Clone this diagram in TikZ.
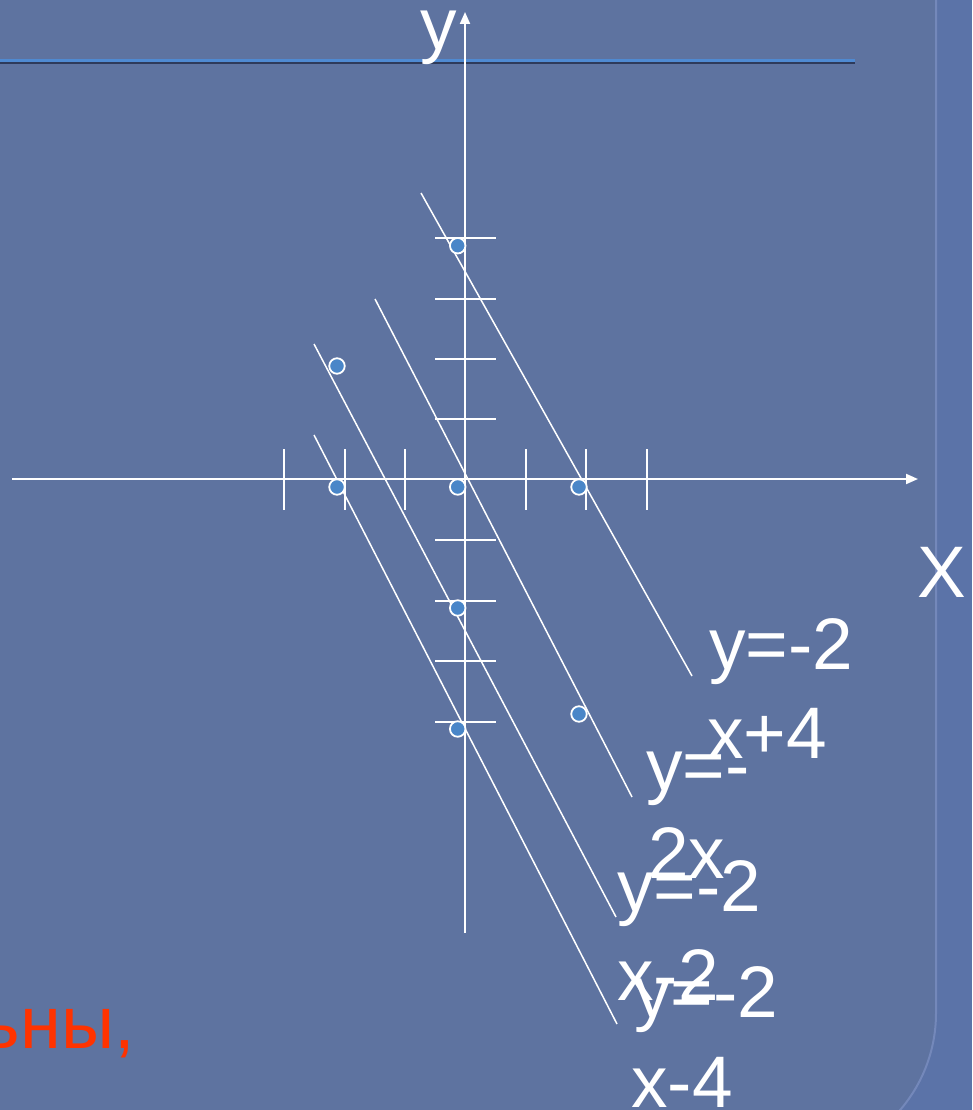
\documentclass[tikz,border=0pt]{standalone}
\usepackage{fontspec}
\setmainfont{Liberation Sans}
\usetikzlibrary{arrows.meta}
\definecolor{bgpanel}{HTML}{5E73A0}
\definecolor{bgband}{HTML}{5B73A8}
\definecolor{bandline}{HTML}{7488BA}
\definecolor{ptblue}{HTML}{4A86C8}
\definecolor{rulelight}{HTML}{4F8AD2}
\definecolor{ruledark}{HTML}{2E3A5A}
\definecolor{redtext}{HTML}{FF3300}
\begin{document}
\begin{tikzpicture}[x=1pt,y=-1pt,
  lbl/.style={text=white,anchor=base west,inner sep=0pt,font=\fontsize{73}{88}\selectfont},
  axisline/.style={white,line width=2pt,-{Triangle[length=12pt,width=10pt]}},
  tickmark/.style={white,line width=2pt},
  graphline/.style={white,line width=1.5pt},
  dot/.style={circle,fill=ptblue,draw=white,line width=1.8pt,minimum size=15.5pt,inner sep=0pt}]
\useasboundingbox (0,0) rectangle (972,1110);
% background
\fill[bgband] (0,0) rectangle (972,1110);
\draw[bandline,line width=2pt,fill=bgpanel,rounded corners=149pt] (-400,-400) -- (936,-400) -- (936,1162) -- (-400,1162) -- cycle;
% top rule
\draw[rulelight,line width=2.3pt] (0,60.5) -- (855,60.5);
\draw[ruledark,line width=2.3pt] (0,62.8) -- (855,62.8);
% axes
\coordinate (xs) at (12,479);
\coordinate (xe) at (918,479);
\coordinate (ys) at (465,933);
\coordinate (ye) at (465,12);
\draw[axisline] (xs) -- (xe);
\draw[axisline] (ys) -- (ye);
% ticks on x axis
\foreach \tx in {284,344.5,405,526,586,647}
  \draw[tickmark] (\tx,449) -- (\tx,510);
% ticks on y axis
\foreach \ty in {238,299,359,419,540,601,661,722}
  \draw[tickmark] (435,\ty) -- (496,\ty);
% graph lines
\coordinate (a1) at (421,193); \coordinate (b1) at (692,676);
\coordinate (a2) at (375,299); \coordinate (b2) at (632,797);
\coordinate (a3) at (314,344); \coordinate (b3) at (616,917);
\coordinate (a4) at (314,435); \coordinate (b4) at (617,1024);
\draw[graphline] (a1) -- (b1);
\draw[graphline] (a2) -- (b2);
\draw[graphline] (a3) -- (b3);
\draw[graphline] (a4) -- (b4);
% points
\node[dot] (p1) at (457.7,245.7) {};
\node[dot] (p2) at (337,366) {};
\node[dot] (p3) at (337,487) {};
\node[dot] (p4) at (457.7,487) {};
\node[dot] (p5) at (579,487) {};
\node[dot] (p6) at (457.7,608) {};
\node[dot] (p7) at (457.7,729) {};
\node[dot] (p8) at (579,714) {};
% axis labels
\node[lbl] (ylab) at (420,50) {y};
\node[lbl] (xlab) at (917,597) {X};
% line labels
\node[lbl] (l1a) at (709,669) {y=-2};
\node[lbl] (l1b) at (707,758) {x+4};
\node[lbl] (l2a) at (646,790) {y=-};
\node[lbl] (l2b) at (648,878) {2x};
\node[lbl] (l3a) at (617,911) {y=-2};
\node[lbl] (l3b) at (617,1000) {x-2};
\node[lbl] (l4a) at (634,1017) {y=-2};
\node[lbl] (l4b) at (631,1107) {x-4};
% red text
\node[text=redtext,anchor=base east,inner sep=0pt,font=\fontsize{74}{88}\selectfont] (red) at (135,1048) {ьны,};
\end{tikzpicture}
\end{document}
